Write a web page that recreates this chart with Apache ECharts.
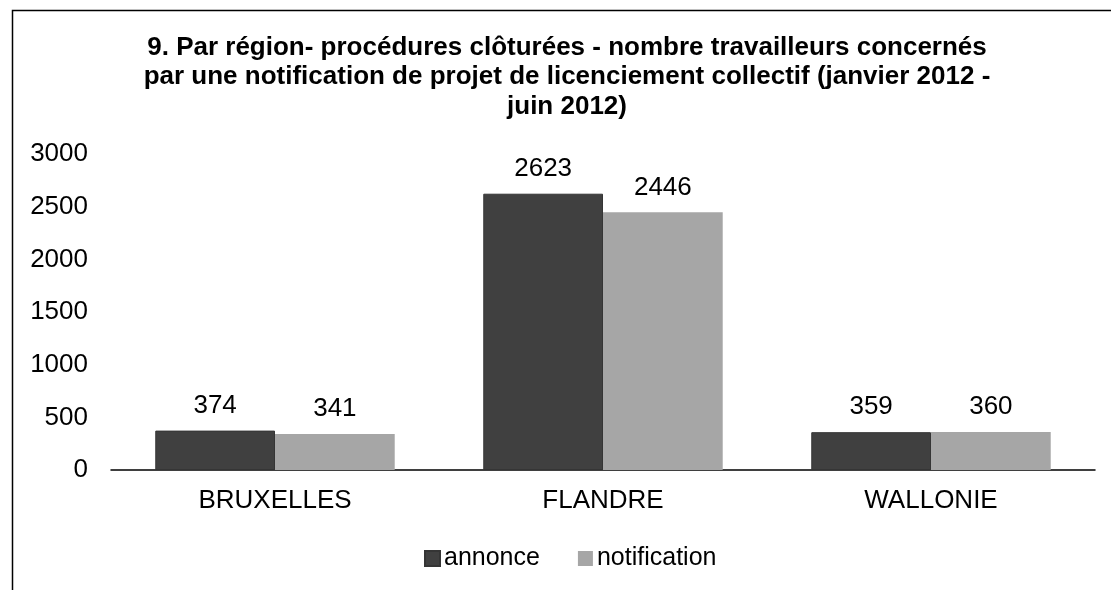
<!DOCTYPE html>
<html>
<head>
<meta charset="utf-8">
<script src="https://cdn.jsdelivr.net/npm/echarts@6/dist/echarts.min.js"></script>
<style>
  html, body { margin: 0; padding: 0; background: #fff; }
  #chart { width: 1111px; height: 590px; }
</style>
</head>
<body>
<div id="chart"></div>
<script>
const regions = ['BRUXELLES', 'FLANDRE', 'WALLONIE']
const seriesNames = ['annonce', 'notification']
const annonce = [374, 2623, 359]
const notification = [341, 2446, 360]
const yTicks = [0, 500, 1000, 1500, 2000, 2500, 3000]

const font = 'Liberation Sans, Arial, sans-serif'
const chart = echarts.init(document.getElementById('chart'))

const labelStyle = {
  show: true,
  position: 'top',
  distance: 12,
  color: '#000',
  fontFamily: font,
  fontSize: 26
}

const option = {
  animation: false,
  backgroundColor: '#fff',
  title: {
    text: '9. Par région- procédures clôturées - nombre travailleurs concernés\npar une notification de projet de licenciement collectif (janvier 2012 -\njuin 2012)',
    left: 567,
    top: 33,
    padding: 0,
    textAlign: 'center',
    textStyle: {
      fontFamily: font,
      fontSize: 26,
      fontWeight: 'bold',
      color: '#000',
      lineHeight: 29.5
    }
  },
  graphic: [
    {
      type: 'rect',
      shape: { x: 12.5, y: 10.5, width: 1300, height: 700 },
      style: { fill: 'none', stroke: '#000', lineWidth: 1.5 },
      silent: true
    }
  ],
  legend: {
    data: seriesNames,
    left: 424,
    bottom: 19,
    padding: 0,
    itemWidth: 15,
    itemHeight: 15,
    itemGap: 38,
    icon: 'rect',
    textStyle: { fontFamily: font, fontSize: 25, color: '#000', padding: [0, 0, 0, -1] }
  },
  grid: {
    left: 111,
    right: 16,
    top: 154,
    bottom: 120,
    containLabel: false
  },
  xAxis: {
    type: 'category',
    data: regions,
    axisLine: { lineStyle: { color: '#000', width: 1.5 } },
    axisTick: { show: false },
    axisLabel: { color: '#000', fontFamily: font, fontSize: 26, margin: 18 }
  },
  yAxis: {
    type: 'value',
    min: yTicks[0],
    max: yTicks[yTicks.length - 1],
    interval: 500,
    axisLine: { show: false },
    axisTick: { show: false },
    splitLine: { show: false },
    axisLabel: {
      color: '#000',
      fontFamily: font,
      fontSize: 26,
      margin: 23,
      formatter: v => String(v)
    }
  },
  series: [
    {
      name: seriesNames[0],
      type: 'bar',
      data: annonce,
      barGap: 0,
      barCategoryGap: '27%',
      itemStyle: { color: '#404040', borderColor: '#353535', borderWidth: 1 },
      label: labelStyle
    },
    {
      name: seriesNames[1],
      type: 'bar',
      data: notification,
      itemStyle: { color: '#a6a6a6' },
      label: labelStyle
    }
  ]
}

chart.setOption(option)
window.addEventListener('resize', () => chart.resize())
</script>
</body>
</html>
